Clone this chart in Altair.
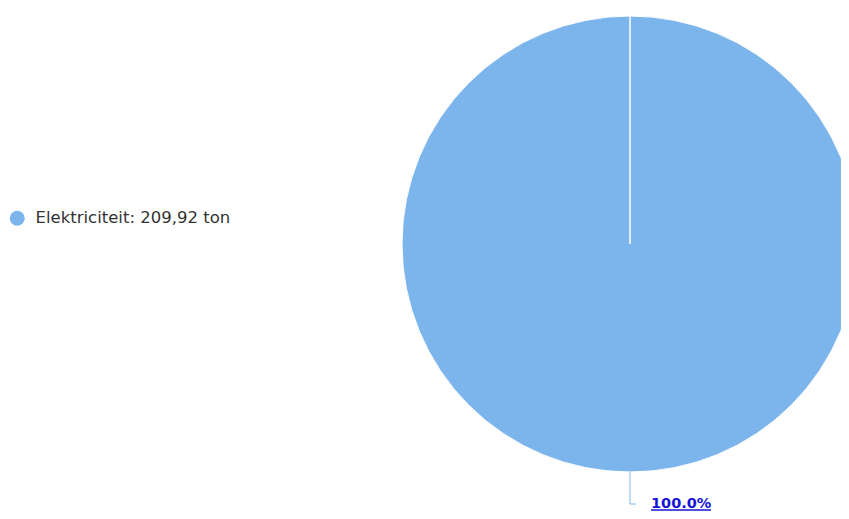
import altair as alt
import pandas as pd

categories = ["Elektriciteit"]
values = [209.92]
unit = "ton"
colors = ["#7cb5ec"]

total = sum(values)
df = pd.DataFrame({
    "category": categories,
    "value": values,
    "legend": [f"{c}: {v:.2f}".replace(".", ",") + f" {unit}" for c, v in zip(categories, values)],
    "pct": [f"{v / total * 100:.1f}%" for v in values],
})

CX, CY, R = 622, 236, 228
FONT = "DejaVu Sans"
LABEL_Y = 496
LINK = "#1515d8"

base = alt.Chart(df)

pie = base.mark_arc(outerRadius=R, stroke="white", strokeWidth=1).encode(
    theta=alt.Theta("value:Q"),
    color=alt.Color(
        "legend:N",
        scale=alt.Scale(range=colors),
        legend=alt.Legend(
            orient="none", legendX=1, legendY=202, title=None,
            symbolType="circle", symbolSize=225, symbolStrokeWidth=0,
            labelFontSize=16.5, labelColor="#333333", labelFont=FONT,
            labelOffset=10, padding=0, labelLimit=0,
        ),
    ),
    x=alt.value(CX),
    y=alt.value(CY),
)

seam = base.mark_rule(color="white", strokeWidth=1.5).encode(
    x=alt.value(CX), y=alt.value(CY - R), y2=alt.value(CY)
)

leader_v = base.mark_rule(color="#7cb5ec", strokeWidth=1).encode(
    x=alt.value(CX), y=alt.value(CY + R), y2=alt.value(LABEL_Y)
)
leader_h = base.mark_rule(color="#7cb5ec", strokeWidth=1).encode(
    x=alt.value(CX), x2=alt.value(628), y=alt.value(LABEL_Y)
)

label = base.mark_text(
    align="left", baseline="middle", fontWeight="bold", fontSize=14.5,
    font=FONT, color=LINK,
).encode(
    text="pct:N", x=alt.value(643), y=alt.value(LABEL_Y)
)

underline = base.mark_rule(color=LINK, strokeWidth=1.5).encode(
    x=alt.value(643), x2=alt.value(703), y=alt.value(LABEL_Y + 6)
)

chart = alt.layer(pie, seam, leader_v, leader_h, label, underline).properties(
    width=833, height=503, autosize="none", padding=0
).configure_view(stroke=None)

chart.save("out.html", embed_options={"renderer": "svg", "actions": False})
